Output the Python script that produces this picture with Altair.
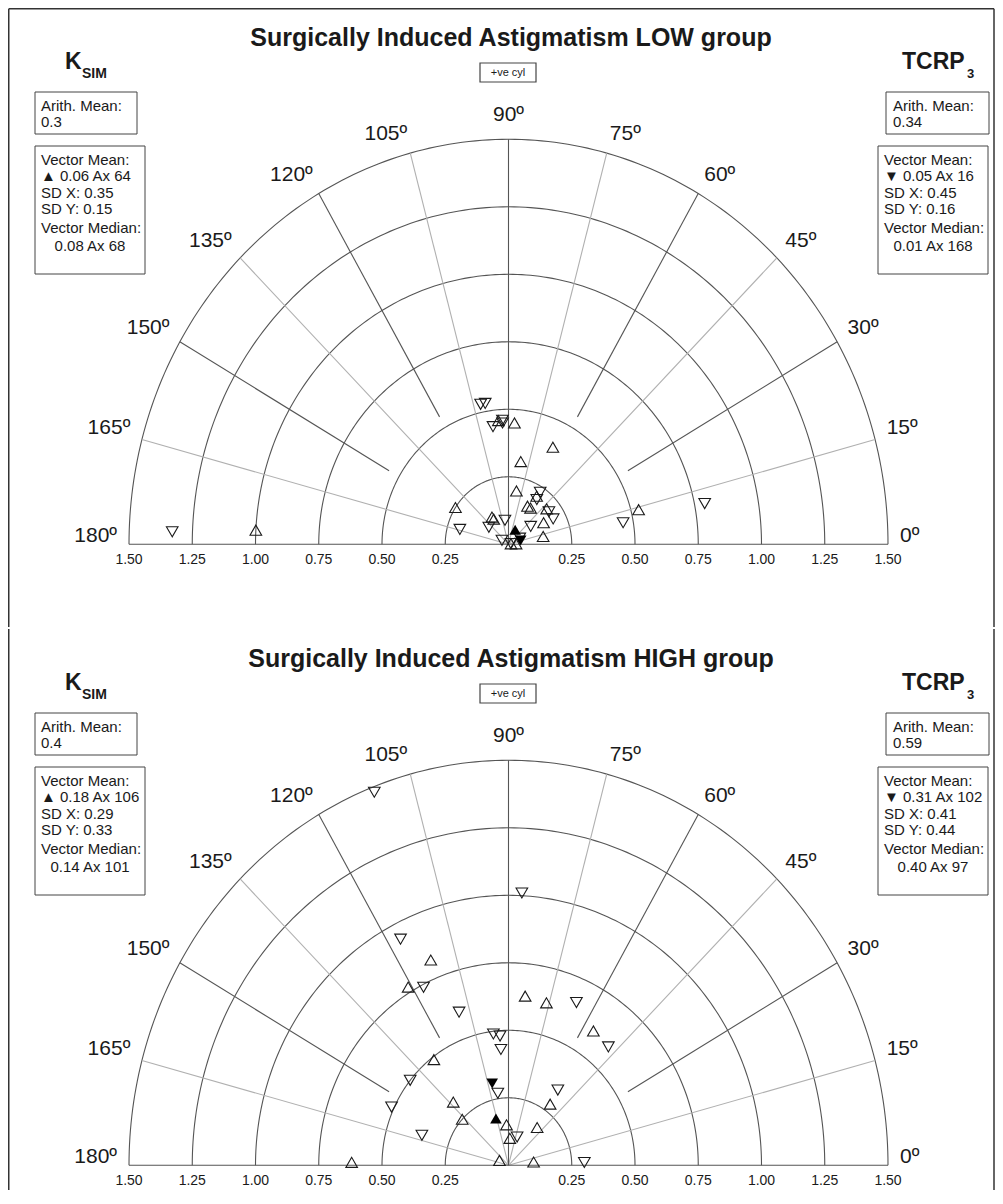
import math
import altair as alt
import pandas as pd
import numpy as np

# ---------------- data (magnitude D, axis deg) ----------------
low_ksim_mag = [0.45, 0.46, 0.40, 0.31, 0.20, 0.21, 0.16, 0.16, 0.20, 0.16, 0.14, 0.25, 0.12, 0.11, 0.53, 1.00, 0.01, 0.03]
low_ksim_ax  = [87,   95,   64,   81,   81,   58,   62,   57,   41,   30,   12,   147,  123,  122,  14,   177,  10,   3]
low_tcrp_mag = [0.53, 0.53, 0.44, 0.46, 0.45, 0.23, 0.20, 0.20, 0.20, 0.11, 0.20, 0.10, 0.09, 0.03, 0.46, 0.79, 1.33, 0.05, 0.01]
low_tcrp_ax  = [102,  100,  98,   93,   93,   57,   56,   37,   28,   37,   164,  141,  99,   150,  10,   11,   178,  27,   15]
low_means = {"ksim": (0.06, 64), "tcrp": (0.05, 16)}

high_ksim_mag = [0.82, 0.77, 0.63, 0.62, 0.60, 0.32, 0.25, 0.15, 0.18, 0.10, 0.62, 0.04, 0.10, 0.28, 0.49]
high_ksim_ax  = [112,  121,  84,   76,   56,   133,  137,  93,   51,   87,   179,  153,  7,    54,   127]
high_tcrp_mag = [1.48, 1.01, 0.94, 0.74, 0.60, 0.49, 0.48, 0.43, 0.66, 0.59, 0.51, 0.11, 0.36, 0.30, 0.50, 0.27, 0.34]
high_tcrp_ax  = [111,  87,   117,  117,  109,  97,   94,   94,   66,   48,   155,  72,   162,  2,    141,  99,   55]
high_means = {"ksim": (0.18, 106), "tcrp": (0.31, 102)}

ring_radii = [0.25, 0.50, 0.75, 1.00, 1.25, 1.50]
tick_values = [0.25, 0.50, 0.75, 1.00, 1.25, 1.50]
angle_ticks = [0, 15, 30, 45, 60, 75, 90, 105, 120, 135, 150, 165, 180]
light_spokes = [15, 45, 75, 105, 135, 165]
dark_spokes = [30, 60, 120, 150]

low_text = {
    "title": "Surgically Induced Astigmatism LOW group",
    "left_arith": "0.3", "left_vm": "\u25B2 0.06 Ax 64", "left_sdx": "SD X: 0.35", "left_sdy": "SD Y: 0.15", "left_med": "0.08 Ax 68",
    "right_arith": "0.34", "right_vm": "\u25BC 0.05 Ax 16", "right_sdx": "SD X: 0.45", "right_sdy": "SD Y: 0.16", "right_med": "0.01 Ax 168",
}
high_text = {
    "title": "Surgically Induced Astigmatism HIGH group",
    "left_arith": "0.4", "left_vm": "\u25B2 0.18 Ax 106", "left_sdx": "SD X: 0.29", "left_sdy": "SD Y: 0.33", "left_med": "0.14 Ax 101",
    "right_arith": "0.59", "right_vm": "\u25BC 0.31 Ax 102", "right_sdx": "SD X: 0.41", "right_sdy": "SD Y: 0.44", "right_med": "0.40 Ax 97",
}

# ---------------- layout constants ----------------
FONT = "Liberation Sans"
W = 987
H_TOP = 619
H_BOT = 561
CX = 500.5      # panel-pixel x of the pole
BASE = 536.3    # panel-pixel y of the pole
PX_X = 253.0    # pixels per dioptre, horizontal
PX_Y = 270.0    # pixels per dioptre, vertical
INK = "#1a1a1a"
GRID = "#555555"
LIGHT = "#b0b0b0"


def to_xy(mags, axes, series):
    a = np.radians(np.array(axes, dtype=float))
    m = np.array(mags, dtype=float)
    return pd.DataFrame({"x": m * np.cos(a), "y": m * np.sin(a), "series": series})


def one():
    return pd.DataFrame({"k": [0]})


def panel(ks_mag, ks_ax, tc_mag, tc_ax, means, txt, H, top):
    xs = alt.Scale(domain=[-CX / PX_X, (W - CX) / PX_X], nice=False, zero=False)
    ys = alt.Scale(domain=[-(H - BASE) / PX_Y, BASE / PX_Y], nice=False, zero=False)
    X = lambda f: alt.X(f, type="quantitative", scale=xs, axis=None)
    Y = lambda f: alt.Y(f, type="quantitative", scale=ys, axis=None)

    layers = []

    # rings (elliptical arcs through the scales)
    angs = np.arange(0, 181, 1)
    ring_rows = []
    for r in ring_radii:
        for a in angs:
            ring_rows.append({"ring": r, "a": a, "x": r * math.cos(math.radians(a)), "y": r * math.sin(math.radians(a))})
    rings = pd.DataFrame(ring_rows)
    layers.append(alt.Chart(rings).mark_line(color=GRID, strokeWidth=1.1).encode(
        x=X("x"), y=Y("y"), detail="ring:N", order="a:Q"))

    # spokes
    sp = []
    for a in light_spokes:
        sp.append({"x": 0.0, "y": 0.0, "x2": 1.5 * math.cos(math.radians(a)), "y2": 1.5 * math.sin(math.radians(a))})
    layers.append(alt.Chart(pd.DataFrame(sp)).mark_rule(color=LIGHT, strokeWidth=1.1).encode(
        x=X("x"), y=Y("y"), x2="x2:Q", y2="y2:Q"))
    dk = []
    for a in dark_spokes:
        c, s = math.cos(math.radians(a)), math.sin(math.radians(a))
        dk.append({"x": 0.545 * c, "y": 0.545 * s, "x2": 1.5 * c, "y2": 1.5 * s})
    dk.append({"x": 0.0, "y": 0.0, "x2": 0.0, "y2": 1.5})
    dk.append({"x": -1.5, "y": 0.0, "x2": 1.5, "y2": 0.0})
    layers.append(alt.Chart(pd.DataFrame(dk)).mark_rule(color=GRID, strokeWidth=1.1).encode(
        x=X("x"), y=Y("y"), x2="x2:Q", y2="y2:Q"))

    # angle labels
    lab = pd.DataFrame({"a": angle_ticks, "label": [f"{a}\u00ba" for a in angle_ticks]})
    lab["x"] = (1.5 + 12 / PX_X) * np.cos(np.radians(lab["a"]))
    lab["y"] = (1.5 + 12 / PX_Y) * np.sin(np.radians(lab["a"]))
    for cond, al, dy in [("datum.a < 90", "left", -2), ("datum.a == 90", "center", -6), ("datum.a > 90", "right", -2)]:
        layers.append(alt.Chart(lab).transform_filter(cond).mark_text(
            align=al, baseline="alphabetic", dy=dy, fontSize=21, font=FONT, color=INK).encode(
            x=X("x"), y=Y("y"), text="label:N"))

    # radial tick labels
    tk = pd.DataFrame({"x": [-v for v in tick_values] + tick_values,
                       "label": [f"{v:.2f}" for v in tick_values] * 2})
    tk["y"] = 0.0
    layers.append(alt.Chart(tk).mark_text(baseline="middle", dy=16, fontSize=14, font=FONT, color=INK).encode(
        x=X("x"), y=Y("y"), text="label:N"))

    # data points
    ks = to_xy(ks_mag, ks_ax, "KSIM")
    tc = to_xy(tc_mag, tc_ax, "TCRP3")
    layers.append(alt.Chart(ks).mark_point(shape="triangle-up", filled=False, size=135, color=INK,
                                           strokeWidth=1.1, opacity=1).encode(x=X("x"), y=Y("y")))
    layers.append(alt.Chart(tc).mark_point(shape="triangle-down", filled=False, size=135, color=INK,
                                           strokeWidth=1.1, opacity=1).encode(x=X("x"), y=Y("y")))
    km = to_xy([means["ksim"][0]], [means["ksim"][1]], "KSIM mean")
    tm = to_xy([means["tcrp"][0]], [means["tcrp"][1]], "TCRP3 mean")
    layers.append(alt.Chart(km).mark_point(shape="triangle-up", filled=True, size=135, color="black",
                                           opacity=1).encode(x=X("x"), y=Y("y")))
    layers.append(alt.Chart(tm).mark_point(shape="triangle-down", filled=True, size=135, color="black",
                                           opacity=1).encode(x=X("x"), y=Y("y")))

    # ---- annotations (pixel placed) ----
    def T(s, x, y, size=15, bold=False, align="left", baseline="middle"):
        return alt.Chart(one()).mark_text(align=align, baseline=baseline, fontSize=size, font=FONT,
                                          fontWeight="bold" if bold else "normal", color=INK).encode(
            x=alt.value(x), y=alt.value(y), text=alt.value(s))

    def box(x0, x1, y0, y1, sw=1):
        return alt.Chart(one()).mark_rect(fill="white", stroke="#444", strokeWidth=sw).encode(
            x=alt.value(x0), x2=alt.value(x1), y=alt.value(y0), y2=alt.value(y1))

    def R(x0, x1, y0, y1):
        return alt.Chart(one()).mark_rule(color="#333", strokeWidth=1.5).encode(
            x=alt.value(x0), x2=alt.value(x1), y=alt.value(y0), y2=alt.value(y1))

    layers.append(T(txt["title"], 503, 38, size=25, bold=True, align="center", baseline="alphabetic"))
    layers.append(box(472, 528, 55, 74, sw=1.2))
    layers.append(T("+ve cyl", 500, 65, size=11, align="center"))
    layers.append(T("K", 57, 61, size=23, bold=True, baseline="alphabetic"))
    layers.append(T("SIM", 74, 70, size=14, bold=True, baseline="alphabetic"))
    layers.append(T("TCRP", 894, 61, size=23, bold=True, baseline="alphabetic"))
    layers.append(T("3", 959, 70, size=13, bold=True, baseline="alphabetic"))

    # left boxes
    layers.append(box(27, 129, 84, 126))
    layers.append(T("Arith. Mean:", 33, 98))
    layers.append(T(txt["left_arith"], 33, 114))
    layers.append(box(27, 137, 138, 266))
    for s, yy in [("Vector Mean:", 152), (txt["left_vm"], 168), (txt["left_sdx"], 185),
                  (txt["left_sdy"], 201), ("Vector Median:", 220)]:
        layers.append(T(s, 33, yy))
    layers.append(T(txt["left_med"], 82, 238, align="center"))

    # right boxes
    layers.append(box(878, 981, 84, 126))
    layers.append(T("Arith. Mean:", 885, 98))
    layers.append(T(txt["right_arith"], 885, 114))
    layers.append(box(870, 980, 138, 266))
    for s, yy in [("Vector Mean:", 152), (txt["right_vm"], 168), (txt["right_sdx"], 185),
                  (txt["right_sdy"], 201), ("Vector Median:", 220)]:
        layers.append(T(s, 876, yy))
    layers.append(T(txt["right_med"], 925, 238, align="center"))

    # outer frame (left / right / top edges only)
    layers.append(R(0.75, 0.75, 0.75 if top else 0, H))
    layers.append(R(986, 986, 0.75 if top else 0, H))
    if top:
        layers.append(R(0.75, 986, 0.75, 0.75))

    return alt.layer(*layers).properties(width=W, height=H, view=alt.ViewBackground(stroke=None))


top = panel(low_ksim_mag, low_ksim_ax, low_tcrp_mag, low_tcrp_ax, low_means, low_text, H_TOP, True)
bot = panel(high_ksim_mag, high_ksim_ax, high_tcrp_mag, high_tcrp_ax, high_means, high_text, H_BOT, False)

chart = alt.vconcat(top, bot, spacing=0).properties(padding=0).configure_view(stroke=None).configure(
    font=FONT, background="white")

chart.save("out.html", embed_options={"renderer": "svg", "actions": False})
